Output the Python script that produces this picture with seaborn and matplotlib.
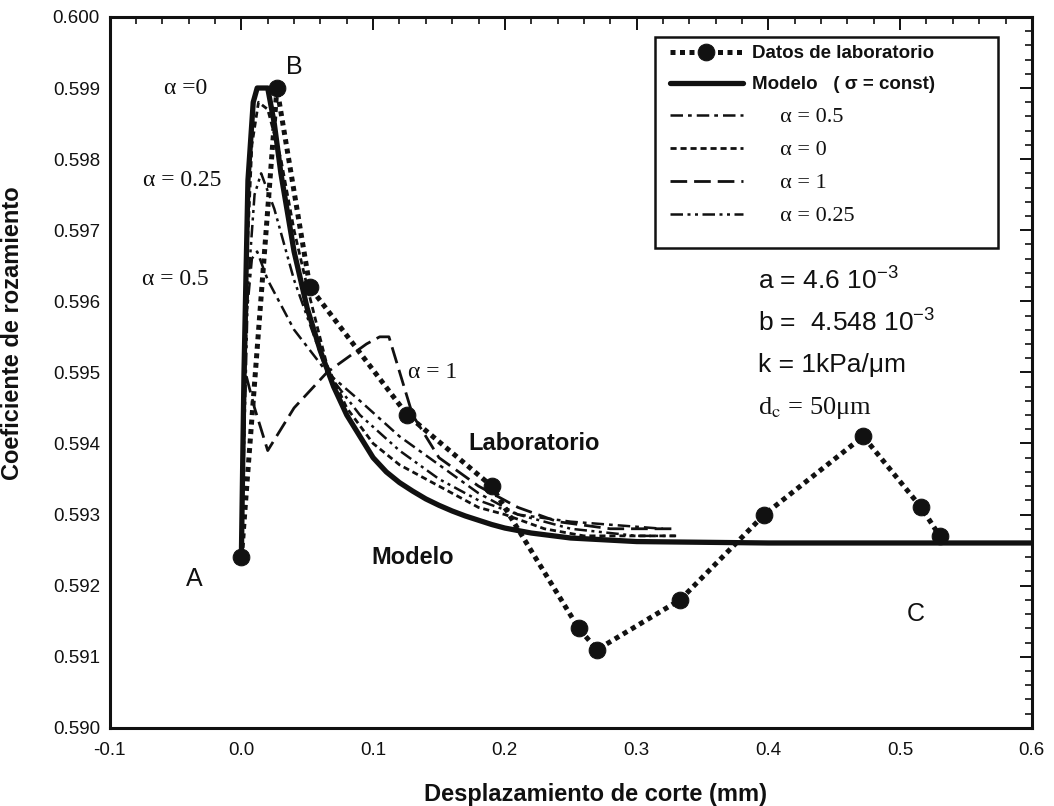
import matplotlib
matplotlib.use("Agg")
import matplotlib.pyplot as plt
from matplotlib.patches import Rectangle
from matplotlib.ticker import MultipleLocator, FormatStrFormatter
import seaborn as sns
import pandas as pd

# Laboratory measurements
lab_x = [0.0, 0.027, 0.052, 0.126, 0.190, 0.256, 0.270, 0.333, 0.397, 0.472, 0.516, 0.530]
lab_y = [0.5924, 0.5990, 0.5962, 0.5944, 0.5934, 0.5914, 0.5911, 0.5918, 0.5930, 0.5941, 0.5931, 0.5927]

# Model with constant normal stress
model_x = [0.0, 0.002, 0.005, 0.009, 0.012, 0.020, 0.025, 0.030, 0.040, 0.050, 0.060, 0.070,
           0.080, 0.090, 0.100, 0.110, 0.120, 0.130, 0.140, 0.150, 0.160, 0.170, 0.180,
           0.190, 0.200, 0.220, 0.250, 0.300, 0.400, 0.500, 0.600]
model_y = [0.5924, 0.5950, 0.5977, 0.5988, 0.5990, 0.5990, 0.5985, 0.5978, 0.5967, 0.5959,
           0.5953, 0.5948, 0.5944, 0.5941, 0.5938, 0.59360, 0.59345, 0.59333, 0.59322, 0.59313,
           0.59305, 0.59298, 0.59292, 0.59286, 0.59281, 0.59274, 0.59267, 0.59262, 0.59260,
           0.59260, 0.59260]

# Variable normal stress, alpha = 0
a0_x = [0.0, 0.004, 0.008, 0.013, 0.020, 0.030, 0.040, 0.050, 0.065, 0.080, 0.100, 0.120,
        0.150, 0.180, 0.200, 0.230, 0.260, 0.300, 0.330]
a0_y = [0.5924, 0.5965, 0.5982, 0.5988, 0.5987, 0.5980, 0.5970, 0.5962, 0.5951, 0.5945,
        0.5940, 0.5937, 0.5934, 0.5931, 0.5930, 0.5928, 0.5927, 0.5927, 0.5927]

# alpha = 0.25
a025_x = [0.0, 0.005, 0.010, 0.015, 0.025, 0.040, 0.065, 0.090, 0.120, 0.150, 0.180,
          0.210, 0.250, 0.300, 0.330]
a025_y = [0.5924, 0.5962, 0.5975, 0.5978, 0.5973, 0.5963, 0.5950, 0.5944, 0.5939, 0.5935,
          0.5932, 0.5930, 0.5928, 0.5927, 0.5927]

# alpha = 0.5
a05_x = [0.0, 0.004, 0.008, 0.012, 0.020, 0.040, 0.065, 0.090, 0.120, 0.150, 0.180,
         0.210, 0.250, 0.320]
a05_y = [0.5924, 0.5958, 0.5966, 0.5967, 0.5963, 0.5956, 0.5950, 0.5946, 0.5941, 0.5937,
         0.5933, 0.5930, 0.5929, 0.5928]

# alpha = 1
a1_x = [0.0, 0.003, 0.010, 0.020, 0.040, 0.065, 0.080, 0.095, 0.105, 0.112, 0.130, 0.150,
        0.180, 0.210, 0.240, 0.280, 0.330]
a1_y = [0.5924, 0.5950, 0.5945, 0.5939, 0.5945, 0.5950, 0.5952, 0.5954, 0.5955, 0.5955,
        0.5944, 0.5938, 0.5934, 0.5931, 0.5929, 0.5928, 0.5928]

x_ticks = [-0.1, 0.0, 0.1, 0.2, 0.3, 0.4, 0.5, 0.6]
y_ticks = [0.590, 0.591, 0.592, 0.593, 0.594, 0.595, 0.596, 0.597, 0.598, 0.599, 0.600]

sns.set_theme(style="white")
plt.rcParams["font.family"] = ["Liberation Sans", "DejaVu Sans"]
plt.rcParams["mathtext.fontset"] = "custom"
plt.rcParams["mathtext.rm"] = "Liberation Sans"
plt.rcParams["mathtext.it"] = "Liberation Sans:italic"
plt.rcParams["mathtext.bf"] = "Liberation Sans:bold"
SERIF = ["Liberation Serif", "DejaVu Serif"]

fig = plt.figure(figsize=(10.54, 8.06), dpi=100)
ax = fig.add_axes([0.104, 0.097, 0.875, 0.882])

INK = "#111111"

def draw(xs, ys, **kw):
    df = pd.DataFrame({"x": xs, "y": ys})
    sns.lineplot(data=df, x="x", y="y", ax=ax, sort=False, estimator=None,
                 color=INK, legend=False, **kw)
    return ax.lines[-1]

h_a1 = draw(a1_x, a1_y, lw=2.0, dashes=(6, 2.5))
h_a025 = draw(a025_x, a025_y, lw=1.8, dashes=(5, 1.8, 1.2, 1.8, 1.2, 1.8))
h_a05 = draw(a05_x, a05_y, lw=1.8, dashes=(5, 2, 1.5, 2))
h_a0 = draw(a0_x, a0_y, lw=2.0, dashes=(2.2, 1.4))
h_model = draw(model_x, model_y, lw=3.8)
h_lab = draw(lab_x, lab_y, lw=3.6, dashes=(1.0, 0.9), marker="o", markersize=12,
             markerfacecolor=INK, markeredgecolor=INK)

ax.set_xlim(-0.1, 0.6)
ax.set_ylim(0.590, 0.600)
ax.set_xticks(x_ticks)
ax.set_yticks(y_ticks)
ax.xaxis.set_minor_locator(MultipleLocator(0.02))
ax.yaxis.set_minor_locator(MultipleLocator(0.0002))
ax.xaxis.set_major_formatter(FormatStrFormatter("%.1f"))
ax.yaxis.set_major_formatter(FormatStrFormatter("%.3f"))
ax.tick_params(which="both", direction="in", top=True, right=True, color=INK)
ax.tick_params(which="major", length=9, width=1.4)
ax.tick_params(which="minor", length=5, width=1.2)
ax.tick_params(axis="x", which="major", pad=10)
ax.tick_params(axis="y", which="major", pad=7)
for lab in ax.get_xticklabels() + ax.get_yticklabels():
    lab.set_fontsize(13.5)
    lab.set_color(INK)
for s in ax.spines.values():
    s.set_linewidth(2.2)
    s.set_color(INK)

ax.set_xlabel("Desplazamiento de corte (mm)", fontsize=17, fontweight="bold",
              color=INK)
ax.set_ylabel("Coeficiente de rozamiento", fontsize=17, fontweight="bold",
              color=INK)
ax.xaxis.set_label_coords(0.527, -0.078)
ax.yaxis.set_label_coords(-0.093, 0.555)

# Curve annotations
ax.text(-0.042, 0.5990, "α =0", fontsize=17, family=SERIF, ha="center", va="center", color=INK)
ax.text(-0.045, 0.5977, "α = 0.25", fontsize=17, family=SERIF, ha="center", va="center", color=INK)
ax.text(-0.050, 0.5963, "α = 0.5", fontsize=17, family=SERIF, ha="center", va="center", color=INK)
ax.text(0.145, 0.5950, "α = 1", fontsize=17, family=SERIF, ha="center", va="center", color=INK)
ax.text(0.222, 0.5940, "Laboratorio", fontsize=17, fontweight="bold", ha="center", va="center", color=INK)
ax.text(0.130, 0.5924, "Modelo", fontsize=17, fontweight="bold", ha="center", va="center", color=INK)
ax.text(-0.036, 0.5921, "A", fontsize=18, ha="center", va="center", color=INK)
ax.text(0.040, 0.5993, "B", fontsize=18, ha="center", va="center", color=INK)
ax.text(0.512, 0.5916, "C", fontsize=18, ha="center", va="center", color=INK)

# Parameters
ax.text(0.392, 0.59628, r"a = 4.6 10$^{\mathrm{-3}}$", fontsize=19, ha="left", va="center", color=INK)
ax.text(0.392, 0.5957, r"b =  4.548 10$^{\mathrm{-3}}$", fontsize=19, ha="left", va="center", color=INK)
ax.text(0.392, 0.5951, "k = 1kPa/μm", fontsize=19, ha="left", va="center", color=INK)
ax.text(0.392, 0.5945, r"d$_{\mathrm{c}}$ = 50μm", fontsize=19, family=SERIF,
        math_fontfamily="stix", ha="left", va="center", color=INK)

# Legend, inside its own square frame
handles = [h_lab, h_model, h_a05, h_a0, h_a1, h_a025]
labels = ["Datos de laboratorio", "Modelo   ( σ = const)", "     α = 0.5", "     α = 0",
          "     α = 1", "     α = 0.25"]
leg = ax.legend(handles, labels, loc="upper left", bbox_to_anchor=(0.608, 0.960),
                numpoints=1, handlelength=4.0, frameon=False,
                borderaxespad=0, borderpad=0, labelspacing=0.78, handletextpad=0.5,
                fontsize=13)
for i, t in enumerate(leg.get_texts()):
    t.set_color(INK)
    if i < 2:
        t.set_fontweight("bold")
        t.set_fontsize(13.5)
    else:
        t.set_fontfamily(SERIF)
        t.set_fontsize(16)
ax.add_patch(Rectangle((0.591, 0.675), 0.372, 0.297, transform=ax.transAxes,
                       facecolor="white", edgecolor=INK, linewidth=1.8, zorder=4))
leg.set_zorder(5)

fig.savefig("out.png", dpi=100, facecolor="white")
